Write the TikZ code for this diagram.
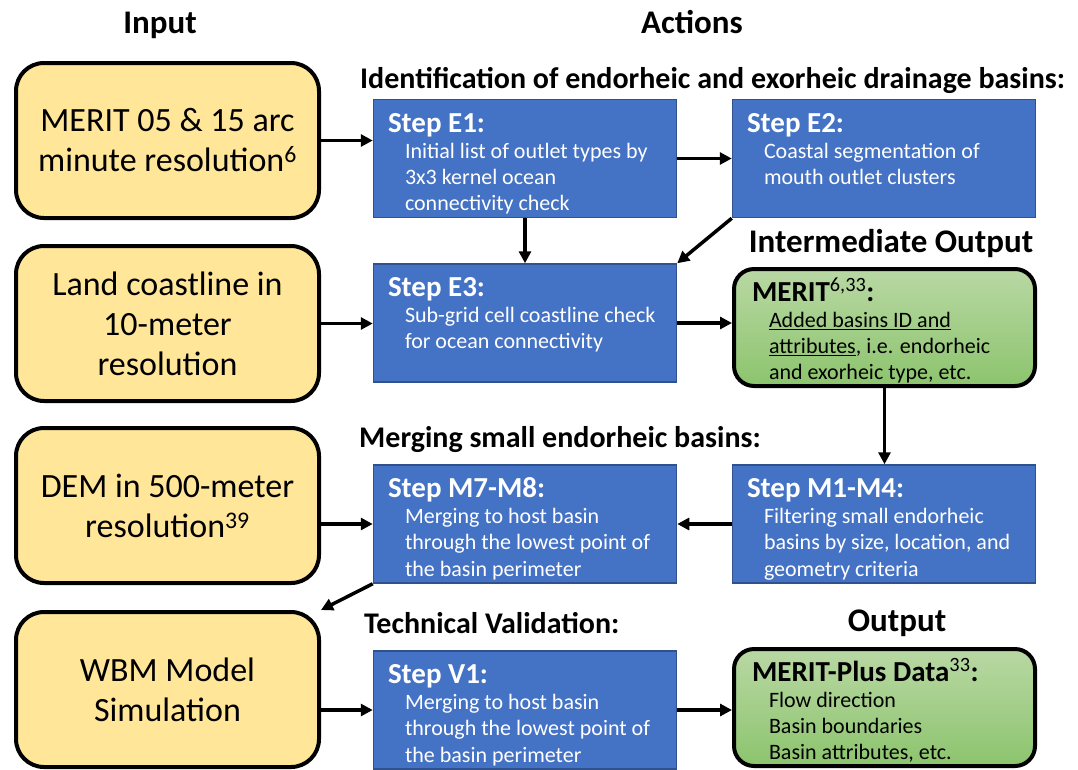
\documentclass[tikz,border=0pt]{standalone}
\usepackage{fontspec}
\setmainfont{Carlito}
\usetikzlibrary{arrows.meta}

\definecolor{inputfill}{HTML}{FFE699}
\definecolor{stepfill}{HTML}{4472C4}
\definecolor{stepline}{HTML}{2F528F}
\definecolor{greentop}{HTML}{B9D8A4}
\definecolor{greenbot}{HTML}{8CC46D}

\newcommand{\boxtext}[3]{\parbox[c][101pt][t]{#1}{\raggedright
  {\fontsize{29}{33}\selectfont\bfseries\rule{0pt}{24pt}#2\par}
  \fontsize{22}{26.2}\selectfont\leftskip=17pt #3}}
\newcommand{\refsup}[1]{\textsuperscript{\mdseries #1}}

\begin{document}
\begin{tikzpicture}[x=1pt, y=-1pt, >={Triangle[length=12pt, width=12pt]},
  input/.style={draw, line width=4pt, fill=inputfill, rounded corners=28pt,
    minimum width=303pt, minimum height=155pt, inner sep=0pt, align=center,
    font=\fontsize{34}{40}\selectfont},
  actbox/.style={draw=stepline, line width=1.5pt, fill=stepfill, text=white,
    minimum width=303pt, minimum height=118pt, inner sep=0pt},
  result/.style={draw, line width=4pt, top color=greentop, bottom color=greenbot,
    rounded corners=20pt, minimum width=301pt, minimum height=117pt, inner sep=0pt},
  head/.style={font=\fontsize{33}{37}\selectfont\bfseries, inner sep=0pt},
  section/.style={font=\fontsize{30}{34}\selectfont\bfseries, inner sep=0pt, anchor=base west},
  arrow/.style={->, line width=3.5pt}
]
  \useasboundingbox (0,0) rectangle (1078,769);

  % Column headings
  \node[head, anchor=base] (hin) at (160,33) {Input};
  \node[head, anchor=base] (hact) at (692,33) {Actions};
  \node[head, anchor=base] (hmid) at (891,252) {Intermediate Output};
  \node[head, anchor=base] (hout) at (897,631) {Output};

  % Section headings
  \node[section] (sid) at (360,88) {Identification of endorheic and exorheic drainage basins:};
  \node[section] (smerge) at (359,447) {Merging small endorheic basins:};
  \node[section] (stech) at (364,633) {Technical Validation:};

  % Input nodes
  \node[input] (in1) at (167.5,140.5) {MERIT 05 \& 15 arc\\minute resolution\refsup{6}};
  \node[input] (in2) at (167.5,323.5) {Land coastline in\\10-meter\\resolution};
  \node[input] (in3) at (167.5,505.5) {DEM in 500-meter\\resolution\refsup{39}};
  \node[input] (in4) at (167.5,689.5) {WBM Model\\Simulation};

  % Action nodes
  \node[actbox] (E1) at (525,158.5) {\boxtext{274pt}{Step E1:}{Initial list of outlet types by\\3x3 kernel ocean\\connectivity check}};
  \node[actbox] (E2) at (884,158.5) {\boxtext{274pt}{Step E2:}{Coastal segmentation of\\mouth outlet clusters}};
  \node[actbox] (E3) at (525,323) {\boxtext{274pt}{Step E3:}{Sub-grid cell coastline check\\for ocean connectivity}};
  \node[actbox] (M1) at (884,524) {\boxtext{274pt}{Step M1-M4:}{Filtering small endorheic\\basins by size, location, and\\geometry criteria}};
  \node[actbox] (M7) at (525,524) {\boxtext{274pt}{Step M7-M8:}{Merging to host basin\\through the lowest point of\\the basin perimeter}};
  \node[actbox] (V1) at (525,710) {\boxtext{274pt}{Step V1:}{Merging to host basin\\through the lowest point of\\the basin perimeter}};

  % Output nodes
  \node[result] (mid) at (884.5,327.5) {\boxtext{265pt}{MERIT\refsup{6,33}:}{\underline{Added basins ID and}\\\underline{attributes}, i.e. endorheic\\and exorheic type, etc.}};
  \node[result] (out) at (884.5,707.5) {\boxtext{265pt}{MERIT-Plus Data\refsup{33}:}{Flow direction\\Basin boundaries\\Basin attributes, etc.}};

  % Arrows
  \draw[arrow] (in1.east) -- (in1.east -| E1.west);
  \draw[arrow] (E1.east) -- (E2.west);
  \draw[arrow] (E1.south) -- (E3.north);
  \draw[arrow] (E2.south west) -- (E3.north east);
  \draw[arrow] (in2.east) -- (in2.east -| E3.west);
  \draw[arrow] (E3.east) -- (E3.east -| mid.west);
  \draw[arrow] (mid.south) -- (mid.south |- M1.north);
  \draw[arrow] (M1.west) -- (M7.east);
  \draw[arrow] (M7.west -| in3.east) -- (M7.west);
  \draw[arrow] (M7.south west) -- (in4.north east);
  \draw[arrow] (V1.west -| in4.east) -- (V1.west);
  \draw[arrow] (V1.east) -- (V1.east -| out.west);

\end{tikzpicture}
\end{document}
